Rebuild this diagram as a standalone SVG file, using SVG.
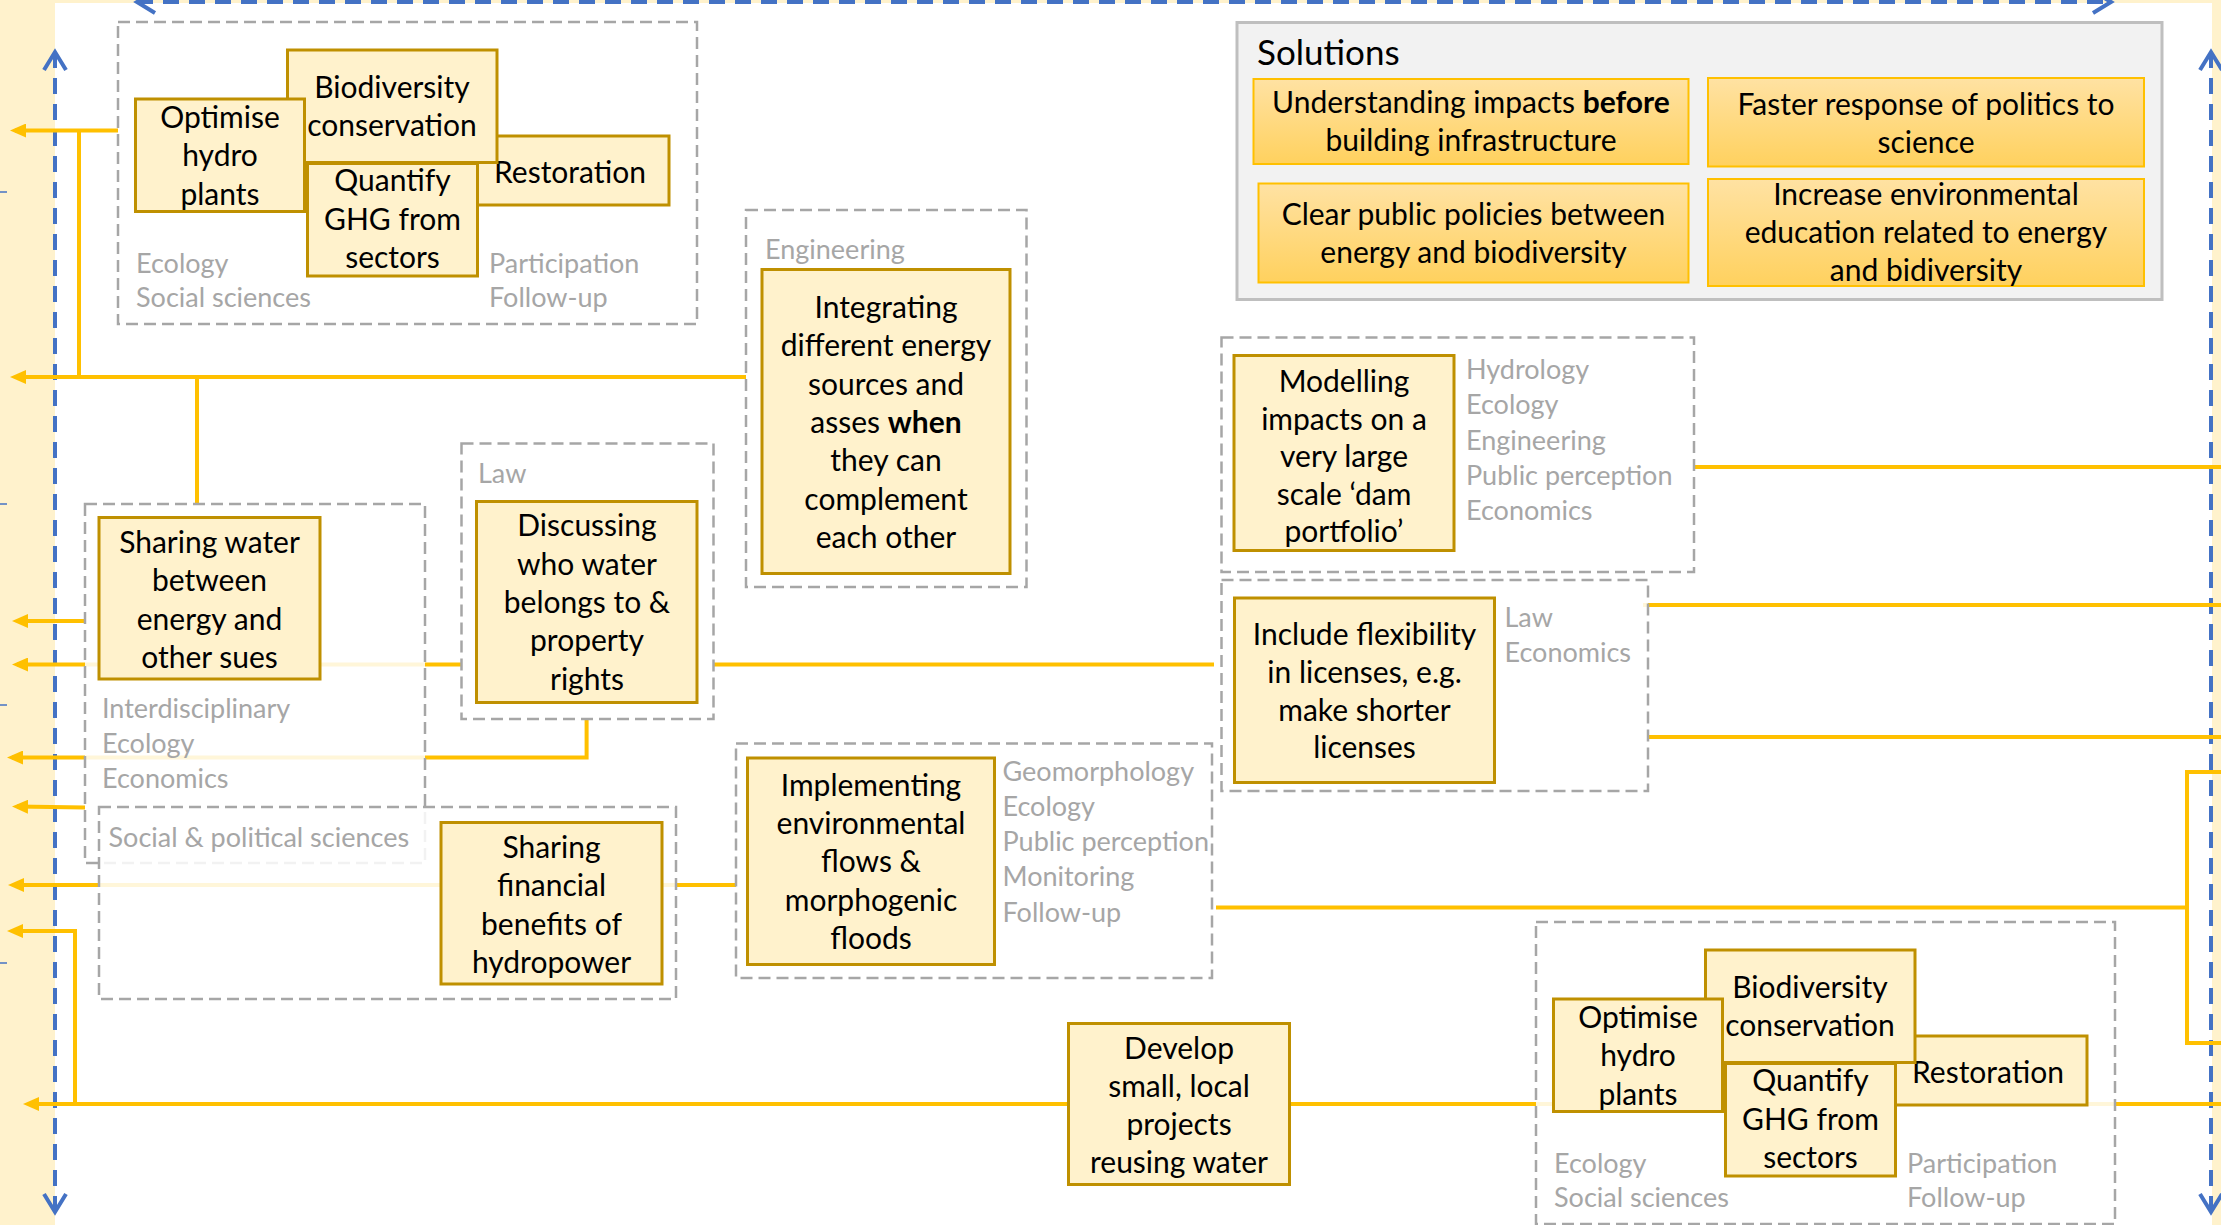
<svg xmlns="http://www.w3.org/2000/svg" width="2221" height="1225" viewBox="0 0 2221 1225">
<defs>
<style>
.bg{fill:#FFF2CC}
.blue{fill:none;stroke:#4472C4;stroke-width:4;stroke-dasharray:16 10}
.tick{stroke:#4472C4;stroke-width:1.5}
.con{fill:none;stroke:#FFC000;stroke-width:4}
.grp{fill:#FFFFFF;fill-opacity:0.85;stroke:#A6A6A6;stroke-width:2.5;stroke-dasharray:12 6}
.grpo{fill:#FFFFFF;stroke:#A6A6A6;stroke-width:2.5;stroke-dasharray:12 6}
.box{fill:#FFF2CC;stroke:#BF9000;stroke-width:3}
.t{font-family:Lato,"Liberation Sans",sans-serif;font-size:30px;fill:#000;text-anchor:middle}
.g{font-family:Lato,"Liberation Sans",sans-serif;font-size:27px;fill:#A6A6A6}
.sol{fill:#F2F2F2;stroke:#BFBFBF;stroke-width:3}
.sbox{fill:url(#gold);stroke:#FFC000;stroke-width:2}
.h{font-family:Lato,"Liberation Sans",sans-serif;font-size:35px;fill:#000}
.b{font-weight:bold}
</style>
<linearGradient id="gold" x1="0" y1="0" x2="0" y2="1">
<stop offset="0" stop-color="#FFE2A3"/>
<stop offset="1" stop-color="#FFD15E"/>
</linearGradient>
<marker id="ya" markerUnits="userSpaceOnUse" viewBox="0 0 16 14" refX="11" refY="7" markerWidth="16" markerHeight="14" orient="auto">
<path d="M0,0 L16,7 L0,14 z" fill="#FFC000"/>
</marker>
<marker id="bc" markerUnits="userSpaceOnUse" viewBox="-2 -2 24 26" refX="18" refY="11" markerWidth="24" markerHeight="26" orient="auto-start-reverse">
<path d="M0,0 L18,11 L0,22" fill="none" stroke="#4472C4" stroke-width="4"/>
</marker>
</defs>

<g id="background">
<rect class="bg" x="0" y="0" width="2221" height="1225"/>
<rect x="55" y="3" width="2157" height="1222" fill="#FFFFFF"/>
<line class="tick" x1="0" y1="192" x2="7" y2="192"/>
<line class="tick" x1="0" y1="504" x2="7" y2="504"/>
<line class="tick" x1="0" y1="705" x2="7" y2="705"/>
<line class="tick" x1="0" y1="963" x2="7" y2="963"/>
</g>

<g id="connectors">
<path class="blue" d="M55,1212 V52" marker-start="url(#bc)" marker-end="url(#bc)"/>
<path class="blue" d="M2211,1212 V52" marker-start="url(#bc)" marker-end="url(#bc)"/>
<path class="blue" d="M137,2 H2111" marker-start="url(#bc)" marker-end="url(#bc)"/>
<path class="con" d="M118,130.5 H15" marker-end="url(#ya)"/>
<path class="con" d="M746,377 H15" marker-end="url(#ya)"/>
<path class="con" d="M79,130.5 V377"/>
<path class="con" d="M197,377 V504"/>
<path class="con" d="M85,621 H17" marker-end="url(#ya)"/>
<path class="con" d="M1214,664.5 H17" marker-end="url(#ya)"/>
<path class="con" d="M586.6,719 V757.5 H12" marker-end="url(#ya)"/>
<path class="con" d="M85,807.5 L17,806.5" marker-end="url(#ya)"/>
<path class="con" d="M736,885 H13" marker-end="url(#ya)"/>
<path class="con" d="M1069,1104 H28" marker-end="url(#ya)"/>
<path class="con" d="M75,1104 V931 H12" marker-end="url(#ya)"/>
<path class="con" d="M1289,1104 H2221"/>
<path class="con" d="M1694,467 H2221"/>
<path class="con" d="M1643,605 H2221"/>
<path class="con" d="M1648,737 H2221"/>
<path class="con" d="M1216,907.5 H2187"/>
<path class="con" d="M2221,772 H2187 V1043 H2221"/>
</g>

<g id="group-top-left">
<rect class="grp" x="118" y="22" width="579" height="302"/>
<text class="g" x="136" y="273">Ecology</text>
<text class="g" x="136" y="307">Social sciences</text>
<text class="g" x="489" y="273">Participation</text>
<text class="g" x="489" y="307">Follow-up</text>
<g id="restoration-1"><rect class="box" x="471" y="136" width="198" height="69"/><text class="t" x="570" y="182.5">Restoration</text></g>
<g id="biodiversity-1"><rect class="box" x="287.5" y="50" width="209.5" height="112.5"/><text class="t" x="392" y="97.5">Biodiversity</text><text class="t" x="392" y="136">conservation</text></g>
<g id="quantify-1"><rect class="box" x="307.5" y="163.5" width="170" height="112.5"/><text class="t" x="392.5" y="191">Quantify</text><text class="t" x="392.5" y="229.5">GHG from</text><text class="t" x="392.5" y="267.5">sectors</text></g>
<g id="optimise-1"><rect class="box" x="135.5" y="99" width="169" height="112.5"/><text class="t" x="220" y="127.5">Optimise</text><text class="t" x="220" y="166">hydro</text><text class="t" x="220" y="204.5">plants</text></g>
</g>

<g id="group-engineering">
<rect class="grp" x="746" y="210" width="280.5" height="377"/>
<text class="g" x="765" y="259">Engineering</text>
<g id="integrating"><rect class="box" x="762" y="269.5" width="248" height="304"/>
<text class="t" x="886" y="317.5">Integrating</text>
<text class="t" x="886" y="356">different energy</text>
<text class="t" x="886" y="394.5">sources and</text>
<text class="t" x="886" y="432.5">asses <tspan class="b">when</tspan></text>
<text class="t" x="886" y="471">they can</text>
<text class="t" x="886" y="509.5">complement</text>
<text class="t" x="886" y="547.5">each other</text></g>
</g>

<g id="group-law">
<rect class="grpo" x="461.5" y="443.5" width="252" height="275.5"/>
<text class="g" x="478" y="483">Law</text>
<g id="discussing"><rect class="box" x="476.5" y="501.5" width="220.5" height="201"/>
<text class="t" x="587" y="536">Discussing</text>
<text class="t" x="587" y="574.5">who water</text>
<text class="t" x="587" y="612.5">belongs to &amp;</text>
<text class="t" x="587" y="651">property</text>
<text class="t" x="587" y="689.5">rights</text></g>
</g>

<g id="group-sharing-water">
<rect class="grp" x="85" y="504" width="340" height="359"/>
<text class="g" x="102" y="718">Interdisciplinary</text>
<text class="g" x="102" y="753">Ecology</text>
<text class="g" x="102" y="788">Economics</text>
<g id="sharing-water"><rect class="box" x="99" y="517.5" width="221" height="161.5"/>
<text class="t" x="209.5" y="552.5">Sharing water</text>
<text class="t" x="209.5" y="591">between</text>
<text class="t" x="209.5" y="629.5">energy and</text>
<text class="t" x="209.5" y="667.5">other sues</text></g>
</g>

<g id="group-social">
<rect class="grp" x="99" y="807" width="577" height="192"/>
<text class="g" x="108.5" y="847">Social &amp; political sciences</text>
<g id="sharing-financial"><rect class="box" x="441" y="822.5" width="221" height="161.5"/>
<text class="t" x="551.5" y="857.5">Sharing</text>
<text class="t" x="551.5" y="896">financial</text>
<text class="t" x="551.5" y="934.5">benefits of</text>
<text class="t" x="551.5" y="972.5">hydropower</text></g>
</g>

<g id="group-implementing">
<rect class="grp" x="736" y="743.5" width="476" height="234.5"/>
<text class="g" x="1002.5" y="780.5">Geomorphology</text>
<text class="g" x="1002.5" y="815.5">Ecology</text>
<text class="g" x="1002.5" y="851">Public perception</text>
<text class="g" x="1002.5" y="886">Monitoring</text>
<text class="g" x="1002.5" y="921.5">Follow-up</text>
<g id="implementing"><rect class="box" x="747.5" y="758" width="247" height="206.5"/>
<text class="t" x="871" y="795.5">Implementing</text>
<text class="t" x="871" y="834">environmental</text>
<text class="t" x="871" y="872">flows &amp;</text>
<text class="t" x="871" y="910.5">morphogenic</text>
<text class="t" x="871" y="948.5">floods</text></g>
</g>

<g id="group-modelling">
<rect class="grp" x="1221.5" y="337.5" width="472.5" height="234.5"/>
<text class="g" x="1466" y="379">Hydrology</text>
<text class="g" x="1466" y="414">Ecology</text>
<text class="g" x="1466" y="449.5">Engineering</text>
<text class="g" x="1466" y="484.5">Public perception</text>
<text class="g" x="1466" y="520">Economics</text>
<g id="modelling"><rect class="box" x="1234" y="355.5" width="220" height="195"/>
<text class="t" x="1344" y="391.5">Modelling</text>
<text class="t" x="1344" y="429.5">impacts on a</text>
<text class="t" x="1344" y="467">very large</text>
<text class="t" x="1344" y="504.5">scale ‘dam</text>
<text class="t" x="1344" y="542">portfolio’</text></g>
</g>

<g id="group-include">
<rect class="grp" x="1221.5" y="580" width="426.5" height="211"/>
<text class="g" x="1504.5" y="626.5">Law</text>
<text class="g" x="1504.5" y="661.5">Economics</text>
<g id="include-flexibility"><rect class="box" x="1234.5" y="598" width="260" height="184.5"/>
<text class="t" x="1364.5" y="645">Include flexibility</text>
<text class="t" x="1364.5" y="682.5">in licenses, e.g.</text>
<text class="t" x="1364.5" y="720.5">make shorter</text>
<text class="t" x="1364.5" y="758">licenses</text></g>
</g>

<g id="develop">
<rect class="box" x="1068.5" y="1023.5" width="221" height="161"/>
<text class="t" x="1179" y="1059">Develop</text>
<text class="t" x="1179" y="1097">small, local</text>
<text class="t" x="1179" y="1134.5">projects</text>
<text class="t" x="1179" y="1172.5">reusing water</text>
</g>

<g id="group-bottom-right">
<rect class="grp" x="1536" y="922" width="579" height="302"/>
<text class="g" x="1554" y="1173">Ecology</text>
<text class="g" x="1554" y="1207">Social sciences</text>
<text class="g" x="1907" y="1173">Participation</text>
<text class="g" x="1907" y="1207">Follow-up</text>
<g id="restoration-2"><rect class="box" x="1889" y="1036" width="198" height="69"/><text class="t" x="1988" y="1082.5">Restoration</text></g>
<g id="biodiversity-2"><rect class="box" x="1705.5" y="950" width="209.5" height="112.5"/><text class="t" x="1810" y="997.5">Biodiversity</text><text class="t" x="1810" y="1036">conservation</text></g>
<g id="quantify-2"><rect class="box" x="1725.5" y="1063.5" width="170" height="112.5"/><text class="t" x="1810.5" y="1091">Quantify</text><text class="t" x="1810.5" y="1129.5">GHG from</text><text class="t" x="1810.5" y="1167.5">sectors</text></g>
<g id="optimise-2"><rect class="box" x="1553.5" y="999" width="169" height="112.5"/><text class="t" x="1638" y="1027.5">Optimise</text><text class="t" x="1638" y="1066">hydro</text><text class="t" x="1638" y="1104.5">plants</text></g>
</g>

<g id="solutions">
<rect class="sol" x="1237" y="22.5" width="925" height="277"/>
<text class="h" x="1257" y="65">Solutions</text>
<g id="sol-understanding"><rect class="sbox" x="1253.5" y="79" width="435" height="85"/>
<text class="t" x="1471" y="112.5">Understanding impacts <tspan class="b">before</tspan></text>
<text class="t" x="1471" y="151">building infrastructure</text></g>
<g id="sol-faster"><rect class="sbox" x="1708" y="78" width="436" height="88.5"/>
<text class="t" x="1926" y="114.5">Faster response of politics to</text>
<text class="t" x="1926" y="152.5">science</text></g>
<g id="sol-clear"><rect class="sbox" x="1258.5" y="183.5" width="430" height="99"/>
<text class="t" x="1473.5" y="224.5">Clear public policies between</text>
<text class="t" x="1473.5" y="262.5">energy and biodiversity</text></g>
<g id="sol-increase"><rect class="sbox" x="1708" y="179" width="436" height="107"/>
<text class="t" x="1926" y="204.5">Increase environmental</text>
<text class="t" x="1926" y="242.5">education related to energy</text>
<text class="t" x="1926" y="281">and bidiversity</text></g>
</g>
</svg>
